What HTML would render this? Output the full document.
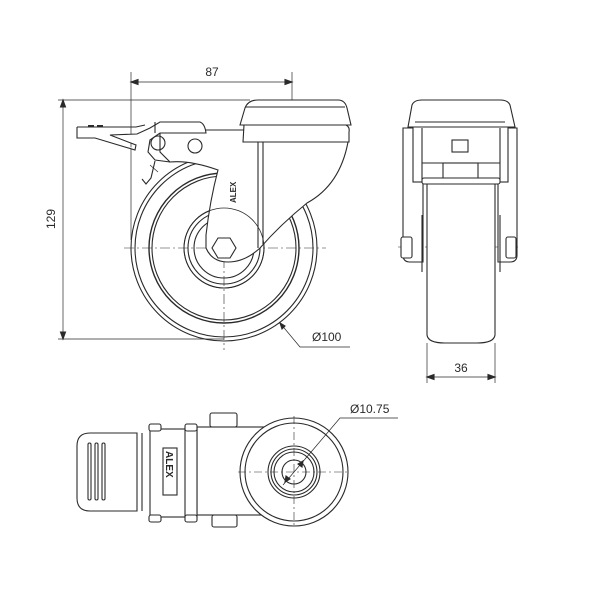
<!DOCTYPE html>
<html><head><meta charset="utf-8"><style>html,body{margin:0;padding:0;background:#fff}svg{display:block}</style></head>
<body>
<svg width="600" height="600" viewBox="0 0 600 600" xmlns="http://www.w3.org/2000/svg" font-family="Liberation Sans, sans-serif">
<g fill="none" stroke="#2a2a2a" stroke-width="1.1">
<!-- ===== SIDE VIEW ===== -->
<!-- dims -->
<line x1="131" y1="72" x2="131" y2="240" stroke-width="0.7"/>
<line x1="292" y1="72" x2="292" y2="120" stroke-width="0.7"/>
<line x1="131" y1="82" x2="292" y2="82" stroke-width="0.7"/>
<path d="M131 82 l7 -2.5 v5 z M292 82 l-7 -2.5 v5 z" fill="#2a2a2a"/>
<line x1="58" y1="100" x2="250" y2="100" stroke-width="0.7"/>
<line x1="58" y1="339" x2="224" y2="339" stroke-width="0.7"/>
<line x1="63" y1="100" x2="63" y2="339" stroke-width="0.7"/>
<path d="M63 100 l-2.5 7 h5 z M63 339 l-2.5 -7 h5 z" fill="#2a2a2a"/>
<!-- centerlines -->
<line x1="124" y1="248" x2="326" y2="248" stroke-width="0.6" stroke-dasharray="10 3 2 3"/>
<line x1="224" y1="150" x2="224" y2="350" stroke-width="0.6" stroke-dasharray="10 3 2 3"/>
<!-- wheel -->
<circle cx="224" cy="248" r="93"/>
<circle cx="224" cy="248" r="89"/>
<circle cx="224" cy="248" r="75" stroke-width="1.4"/>
<circle cx="224" cy="248" r="72"/>
<circle cx="224" cy="248" r="40"/>
<circle cx="224" cy="248" r="36"/>
<circle cx="224" cy="248" r="30"/>
<polygon points="236,248 230,258 218,258 212,248 218,238 230,238" fill="#fff"/>
<!-- fork body -->
<path d="M160 130 L348 130 L348 142 Q340 185 307 203 Q280 225 260 248 Q245 262 228 262 Q212 262 206 248 L206 235 Q210 200 218 170 Q190 160 170 162 L160 152 Z" fill="#fff"/>
<line x1="258" y1="130" x2="258" y2="248"/>
<line x1="263" y1="130" x2="263" y2="244"/>
<circle cx="224" cy="248" r="40" stroke-width="0.8"/>
<polygon points="236,248 230,258 218,258 212,248 218,238 230,238" fill="#fff"/>
<!-- top cap -->
<path d="M240 125 L245 108 Q248 100 258 100 L338 100 Q345 100 347 108 L351 125 Z" fill="#fff"/>
<path d="M244 125 L346 125 Q350 127 349 132 L349 142 L243 142 Z" fill="#fff"/>
<line x1="246" y1="107" x2="345" y2="107"/>
<!-- brake lever -->
<path d="M77 127 L77 138 L95 138 L135 150 L136 145 L110 135 L137 134 L150 128 L160 122 L200 122 Q205 124 206 133 L160 133 L150 140 L148 152 L155 160 L170 162" fill="#fff"/>
<path d="M77 127 L136 127 L145 125" />
<line x1="88" y1="126" x2="94" y2="126" stroke-width="2"/>
<line x1="97" y1="126" x2="103" y2="126" stroke-width="2"/>
<line x1="155" y1="122" x2="155" y2="133"/>
<circle cx="158" cy="143" r="7"/>
<circle cx="195" cy="146" r="7"/>
<path d="M155 161 L151 178 L146 184 L142 179"/>
<line x1="150" y1="165" x2="158" y2="172" stroke-width="0.7"/>
<!-- ALEX mark -->
<text x="0" y="0" transform="translate(236,203) rotate(-90)" font-size="8" fill="#2a2a2a" stroke="none" font-weight="bold">ALEX</text>
<!-- Ø100 leader -->
<path d="M280 323 L300 347 L350 347" stroke-width="0.7"/>
<path d="M280 323 l2 6 l3 -3 z" fill="#2a2a2a"/>

<!-- ===== FRONT VIEW ===== -->
<line x1="460" y1="110" x2="460" y2="345" stroke-width="0.6" stroke-dasharray="8 3 2 3"/>
<line x1="398" y1="247" x2="520" y2="247" stroke-width="0.6" stroke-dasharray="8 3 2 3"/>
<path d="M403 128 L403 255 Q403 262 410 262 L423 262 L423 128 Z" fill="#fff"/>
<path d="M517 128 L517 255 Q517 262 510 262 L498 262 L498 128 Z" fill="#fff"/>
<path d="M427 180 L427 335 Q428 343 445 343 L477 343 Q494 343 495 335 L495 180 Z" fill="#fff"/>
<line x1="422" y1="215" x2="422" y2="272"/><line x1="500" y1="215" x2="500" y2="272"/>
<rect x="413" y="120" width="95" height="62" fill="#fff"/>
<line x1="422" y1="128" x2="422" y2="180"/><line x1="500" y1="128" x2="500" y2="180"/>
<line x1="422" y1="163" x2="500" y2="163"/>
<rect x="443" y="163" width="35" height="17"/>
<rect x="452" y="140" width="16" height="12"/>
<rect x="422" y="178" width="78" height="6" rx="2" fill="#fff"/>
<path d="M408 127 L412 105 Q414 100 422 100 L500 100 Q508 100 510 105 L515 127 Z" fill="#fff"/>
<line x1="415" y1="122" x2="505" y2="122"/>
<rect x="401" y="237" width="11" height="21" rx="2" fill="#fff"/>
<rect x="506" y="237" width="10" height="21" rx="2" fill="#fff"/>
<!-- 36 dim -->
<line x1="427" y1="343" x2="427" y2="383" stroke-width="0.7"/>
<line x1="495" y1="343" x2="495" y2="383" stroke-width="0.7"/>
<line x1="427" y1="377" x2="495" y2="377" stroke-width="0.7"/>
<path d="M427 377 l7 -2.5 v5 z M495 377 l-7 -2.5 v5 z" fill="#2a2a2a"/>

<!-- ===== TOP VIEW ===== -->
<rect x="210" y="413" width="27" height="14" rx="2" fill="#fff"/>
<rect x="212" y="515" width="25" height="12" rx="2" fill="#fff"/>
<rect x="197" y="427" width="70" height="88" fill="#fff"/>
<path d="M137 433 L90 433 Q77 433 77 446 L77 498 Q77 511 90 511 L137 511 Z" fill="#fff"/>
<line x1="142" y1="433" x2="142" y2="511"/>
<rect x="88" y="443" width="3" height="57" rx="1.5"/>
<rect x="95" y="443" width="3" height="57" rx="1.5"/>
<rect x="102" y="443" width="3" height="57" rx="1.5"/>
<rect x="150" y="429" width="47" height="88" fill="#fff"/>
<line x1="185" y1="429" x2="185" y2="517"/>
<rect x="149" y="424" width="12" height="7" rx="2" fill="#fff"/>
<rect x="185" y="424" width="12" height="7" rx="2" fill="#fff"/>
<rect x="149" y="515" width="12" height="7" rx="2" fill="#fff"/>
<rect x="185" y="515" width="12" height="7" rx="2" fill="#fff"/>
<rect x="163" y="448" width="14" height="47" fill="#fff"/>
<text x="0" y="0" transform="translate(166,451) rotate(90)" font-size="10" font-weight="bold" fill="#2a2a2a" stroke="none">ALEX</text>
<circle cx="294" cy="472" r="54" fill="#fff"/>
<circle cx="294" cy="472" r="49"/>
<circle cx="294" cy="472" r="26"/>
<circle cx="294" cy="472" r="23"/>
<circle cx="294" cy="472" r="20"/>
<circle cx="294" cy="472" r="12"/>
<line x1="238" y1="472" x2="350" y2="472" stroke-width="0.6" stroke-dasharray="8 3 2 3"/>
<line x1="294" y1="416" x2="294" y2="528" stroke-width="0.6" stroke-dasharray="8 3 2 3"/>
<path d="M283 485 L340 418 L398 418" stroke-width="0.7"/>
<path d="M285 482 l1 -6 l4 3 z M303 461 l-1 6 l-4 -3 z" fill="#2a2a2a"/>
</g>
<g fill="#2a2a2a" font-size="12">
<text x="212" y="76" text-anchor="middle">87</text>
<text x="0" y="0" transform="translate(55,219) rotate(-90)" text-anchor="middle">129</text>
<text x="312" y="341">Ø100</text>
<text x="461" y="372" text-anchor="middle">36</text>
<text x="350" y="413">Ø10.75</text>
</g>
</svg>
</body></html>
